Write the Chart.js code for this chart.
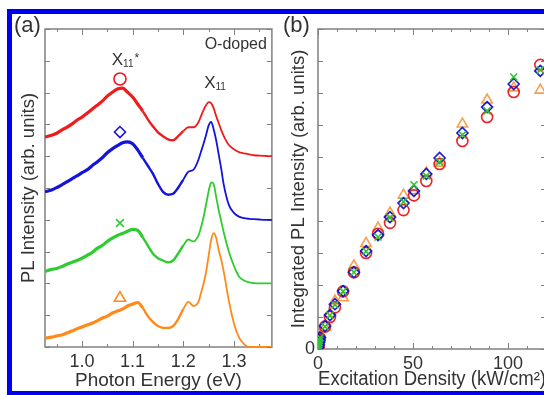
<!DOCTYPE html>
<html>
<head>
<meta charset="utf-8">
<style>
  html, body { margin: 0; padding: 0; width: 544px; height: 395px; overflow: hidden; background: #fff; }
  #border { position: absolute; left: 7px; top: 9px; width: 640px; height: 387px; border: 5px solid #0000f0; box-sizing: border-box; }
  canvas { position: absolute; top: 0; }
  #ca { left: 0; }
  #cb { left: 280px; }
</style>
<script src="https://cdn.jsdelivr.net/npm/chart.js@4"></script>
</head>
<body>
<div id="border"></div>
<canvas id="ca" width="280" height="395"></canvas>
<canvas id="cb" width="290" height="395"></canvas>
<script>
// (a) PL spectra, values above each curve's own baseline (arb. units, 1 = one tick)
const energy = [0.927, 0.94, 0.95, 0.96, 0.97, 0.98, 0.99, 1.00, 1.01, 1.02, 1.03, 1.04, 1.05, 1.06, 1.07, 1.08,
  1.09, 1.10, 1.11, 1.12, 1.13, 1.14, 1.15, 1.16, 1.17, 1.18, 1.19, 1.20, 1.21, 1.22, 1.23, 1.235, 1.24, 1.245,
  1.25, 1.255, 1.26, 1.265, 1.27, 1.275, 1.28, 1.29, 1.30, 1.31, 1.32, 1.33, 1.34, 1.35, 1.36, 1.37, 1.375];
const plRed = [0.60, 0.66, 0.72, 0.82, 0.91, 1.01, 1.13, 1.23, 1.35, 1.48, 1.60, 1.73, 1.89, 2.01, 2.11, 2.14,
  2.01, 1.86, 1.64, 1.42, 1.16, 0.94, 0.75, 0.63, 0.53, 0.50, 0.63, 0.79, 0.91, 0.91, 1.07, 1.26, 1.45, 1.60,
  1.70, 1.67, 1.51, 1.26, 1.04, 0.82, 0.63, 0.35, 0.22, 0.13, 0.09, 0.06, 0.03, 0.02, 0.01, 0, 0];
const plBlue = [0.88, 0.94, 1.01, 1.10, 1.19, 1.29, 1.38, 1.48, 1.57, 1.70, 1.82, 1.95, 2.11, 2.23, 2.33, 2.42,
  2.45, 2.39, 2.20, 1.95, 1.70, 1.45, 1.13, 0.88, 0.79, 0.82, 1.01, 1.26, 1.51, 1.57, 1.89, 2.14, 2.39, 2.67,
  2.96, 3.08, 2.85, 2.50, 2.05, 1.60, 1.10, 0.47, 0.22, 0.10, 0.05, 0.03, 0.02, 0.01, 0, 0, 0];
const plGreen = [0.38, 0.44, 0.47, 0.53, 0.60, 0.66, 0.72, 0.79, 0.88, 0.97, 1.10, 1.19, 1.32, 1.42, 1.51, 1.57,
  1.64, 1.70, 1.67, 1.45, 1.19, 0.94, 0.79, 0.72, 0.66, 0.72, 0.94, 1.19, 1.38, 1.32, 1.51, 1.76, 2.08, 2.48,
  2.89, 3.18, 3.12, 2.72, 2.30, 1.95, 1.60, 1.00, 0.55, 0.22, 0.09, 0.03, 0.01, 0, 0, 0, 0];
const plOrange = [0.28, 0.31, 0.35, 0.38, 0.44, 0.50, 0.57, 0.63, 0.69, 0.75, 0.82, 0.91, 0.97, 1.07, 1.13, 1.19,
  1.29, 1.35, 1.40, 1.23, 0.97, 0.79, 0.66, 0.60, 0.60, 0.66, 0.88, 1.19, 1.42, 1.29, 1.42, 1.70, 1.98, 2.36,
  2.86, 3.36, 3.58, 3.43, 3.05, 2.74, 2.36, 1.45, 0.75, 0.30, 0.09, 0, 0, 0, 0, 0, 0];
const offsets = [6, 4, 2, 0];

// marker symbols next to X11* and peak labels
const markE = 1.075;
const markLevel = [8.43, 6.76, 3.9, 1.54];
const peakE = [1.0588, 1.2412];
const peakLevel = [8.87, 8.14];
const peakStar = ['*', ''];

// (b) integrated PL vs excitation density
const density = [0.1, 0.2, 0.35, 0.5, 0.7, 1.0, 3.7, 6.3, 8.9, 13.2, 18.9, 25.3, 31.6, 37.9, 45, 50.5, 57, 64, 76, 89, 103, 117];
const intRed = [0.05, 0.09, 0.15, 0.20, 0.27, 0.34, 0.70, 1.00, 1.30, 1.80, 2.40, 3.00, 3.60, 3.94, 4.34, 4.80, 5.25, 5.78, 6.50, 7.25, 8.03, 8.88];
const intBlue = [0.05, 0.10, 0.15, 0.21, 0.28, 0.36, 0.72, 1.06, 1.40, 1.81, 2.40, 3.06, 3.56, 4.12, 4.56, 4.94, 5.47, 5.97, 6.75, 7.56, 8.28, 8.69];
const intGreen = [0.05, 0.09, 0.15, 0.20, 0.27, 0.35, 0.70, 1.05, 1.38, 1.80, 2.40, 3.05, 3.50, 4.10, 4.60, 5.13, 5.41, 5.84, 6.69, 7.44, 8.50, 8.72];
const intOrange = [0.06, 0.12, 0.20, 0.27, 0.34, 0.40, 0.68, 1.10, 1.50, 1.60, 2.60, 3.30, 3.78, 4.25, 4.81, 4.95, 5.50, 5.81, 7.03, 7.78, 8.16, 8.09];

const FONT = "'Liberation Sans', Arial, Helvetica, sans-serif";
const INK = '#333';
const RED = '#f01c1c', BLUE = '#1414dc', GREEN = '#2ecc2e', ORANGE = '#ff8a1a';
Chart.defaults.font.family = FONT;
Chart.defaults.color = INK;

// gray box with inward ticks on all four sides
const frame = {
  id: 'frame',
  beforeDatasetsDraw(chart, args, opts) {
    const { ctx, chartArea: a, scales: { x, y } } = chart;
    ctx.save();
    ctx.strokeStyle = '#808080';
    ctx.lineWidth = 1;
    ctx.beginPath();
    x.ticks.forEach(t => {
      const px = Math.round(x.getPixelForValue(t.value)) + 0.5;
      const len = t.label ? 6 : 3;
      ctx.moveTo(px, a.bottom); ctx.lineTo(px, a.bottom - len);
      ctx.moveTo(px, a.top); ctx.lineTo(px, a.top + len);
    });
    y.ticks.forEach(t => {
      const py = Math.round(y.getPixelForValue(t.value)) + 0.5;
      ctx.moveTo(a.left, py); ctx.lineTo(a.left + 5, py);
      ctx.moveTo(a.right, py); ctx.lineTo(a.right - 5, py);
    });
    ctx.stroke();
    ctx.lineWidth = 1.5;
    ctx.strokeRect(a.left, a.top, a.right - a.left, a.bottom - a.top);
    ctx.restore();
  }
};

function peakLabel(ctx, px, py, star) {
  ctx.font = `17px ${FONT}`;
  ctx.fillText('X', px, py);
  const w = ctx.measureText('X').width;
  ctx.font = `10px ${FONT}`;
  ctx.fillText('11', px + w, py + 2);
  if (star) {
    const w2 = ctx.measureText('11').width;
    ctx.font = `12px ${FONT}`;
    ctx.fillText(star, px + w + w2 + 1, py - 3);
  }
}

const notesA = {
  id: 'notesA',
  afterDraw(chart) {
    const { ctx, chartArea: a, scales: { x, y } } = chart;
    ctx.save();
    ctx.fillStyle = INK;
    ctx.textBaseline = 'alphabetic';
    ctx.font = `22px ${FONT}`;
    ctx.fillText('(a)', 14, 32);
    ctx.font = `16px ${FONT}`;
    ctx.textAlign = 'right';
    ctx.fillText('O-doped', a.right - 5, a.top + 20);
    ctx.textAlign = 'left';
    peakE.forEach((e, i) => peakLabel(ctx, x.getPixelForValue(e), y.getPixelForValue(peakLevel[i]), peakStar[i]));
    ctx.restore();
  }
};

const notesB = {
  id: 'notesB',
  afterDraw(chart) {
    const { ctx } = chart;
    ctx.save();
    ctx.fillStyle = INK;
    ctx.font = `22px ${FONT}`;
    ctx.fillText('(b)', 3, 32);
    ctx.restore();
  }
};

function curve(vals, off, color) {
  return {
    data: energy.map((e, i) => ({ x: e, y: vals[i] + off })),
    borderColor: color,
    pointRadius: 0,
    cubicInterpolationMode: 'monotone',
    borderWidth: 1.8,
    segment: { borderWidth: c => c.p0.parsed.x < 1.12 ? 3.2 : (c.p0.parsed.x < 1.2 ? 2.4 : 1.8) }
  };
}

function mark(level, style, color, r) {
  return {
    data: [{ x: markE, y: level }],
    showLine: false,
    pointStyle: style,
    pointRadius: r,
    pointBorderWidth: 1.6,
    pointBorderColor: color,
    pointBackgroundColor: 'rgba(0,0,0,0)'
  };
}

new Chart(document.getElementById('ca'), {
  type: 'line',
  data: {
    datasets: [
      mark(markLevel[0], 'circle', RED, 6),
      mark(markLevel[1], 'rectRot', BLUE, 5.5),
      mark(markLevel[2], 'crossRot', GREEN, 5.5),
      mark(markLevel[3], 'triangle', ORANGE, 6.5),
      curve(plRed, offsets[0], RED),
      curve(plBlue, offsets[1], BLUE),
      curve(plGreen, offsets[2], GREEN),
      curve(plOrange, offsets[3], ORANGE)
    ]
  },
  options: {
    responsive: false,
    animation: false,
    layout: { padding: { top: 29, right: 7, left: 0, bottom: 0 } },
    plugins: { legend: { display: false }, tooltip: { enabled: false } },
    scales: {
      x: {
        type: 'linear', min: 0.927, max: 1.375,
        grid: { display: false, drawTicks: false },
        border: { display: false },
        ticks: {
          stepSize: 0.05, includeBounds: false, autoSkip: false, maxRotation: 0, padding: 4,
          font: { size: 18 },
          callback: v => Math.abs(v * 10 - Math.round(v * 10)) < 1e-6 ? v.toFixed(1) : ''
        },
        title: { display: true, text: 'Photon Energy (eV)', font: { size: 19 }, padding: { top: 0, bottom: 3 } },
        afterFit: s => { s.height = 48; }
      },
      y: {
        min: 0, max: 10,
        grid: { display: false, drawTicks: false },
        border: { display: false },
        ticks: { stepSize: 1, padding: 0, callback: () => '' },
        title: { display: true, text: 'PL Intensity (arb. units)', font: { size: 18.5 }, padding: { top: 17.5, bottom: 0 } },
        afterFit: s => { s.width = 45; }
      }
    }
  },
  plugins: [frame, notesA]
});

const markB = [
  { vals: intGreen, style: 'crossRot', color: '#33c233', r: 5 },
  { vals: intBlue, style: 'rectRot', color: '#1818d0', r: 5.5 },
  { vals: intRed, style: 'circle', color: '#ec2226', r: 5.5 },
  { vals: intOrange, style: 'triangle', color: '#f7a052', r: 6 }
];

new Chart(document.getElementById('cb'), {
  type: 'scatter',
  data: {
    datasets: markB.map(m => ({
      data: density.map((d, i) => ({ x: d, y: m.vals[i] })),
      pointStyle: m.style,
      pointRadius: m.r,
      pointBorderWidth: 1.6,
      pointBorderColor: m.color,
      pointBackgroundColor: 'rgba(0,0,0,0)'
    }))
  },
  options: {
    responsive: false,
    animation: false,
    layout: { padding: { top: 29, right: 24, left: 0, bottom: 0 } },
    plugins: { legend: { display: false }, tooltip: { enabled: false } },
    scales: {
      x: {
        type: 'linear', min: 0, max: 120,
        grid: { display: false, drawTicks: false },
        border: { display: false },
        ticks: {
          stepSize: 10, autoSkip: false, maxRotation: 0, padding: 4,
          font: { size: 18 },
          callback: v => v % 50 === 0 ? String(v) : ''
        },
        title: { display: true, text: 'Excitation Density (kW/cm²)', font: { size: 19.5 }, padding: { top: 0, bottom: 4 } },
        afterFit: s => { s.height = 46; }
      },
      y: {
        min: 0, max: 10,
        grid: { display: false, drawTicks: false },
        border: { display: false },
        ticks: { stepSize: 1, padding: 3, font: { size: 18 }, callback: v => v === 0 ? '0' : '' },
        title: { display: true, text: 'Integrated PL Intensity (arb. units)', font: { size: 18.5 }, padding: { top: 8, bottom: 0 } },
        afterFit: s => { s.width = 38; }
      }
    }
  },
  plugins: [frame, notesB]
});
</script>
</body>
</html>
